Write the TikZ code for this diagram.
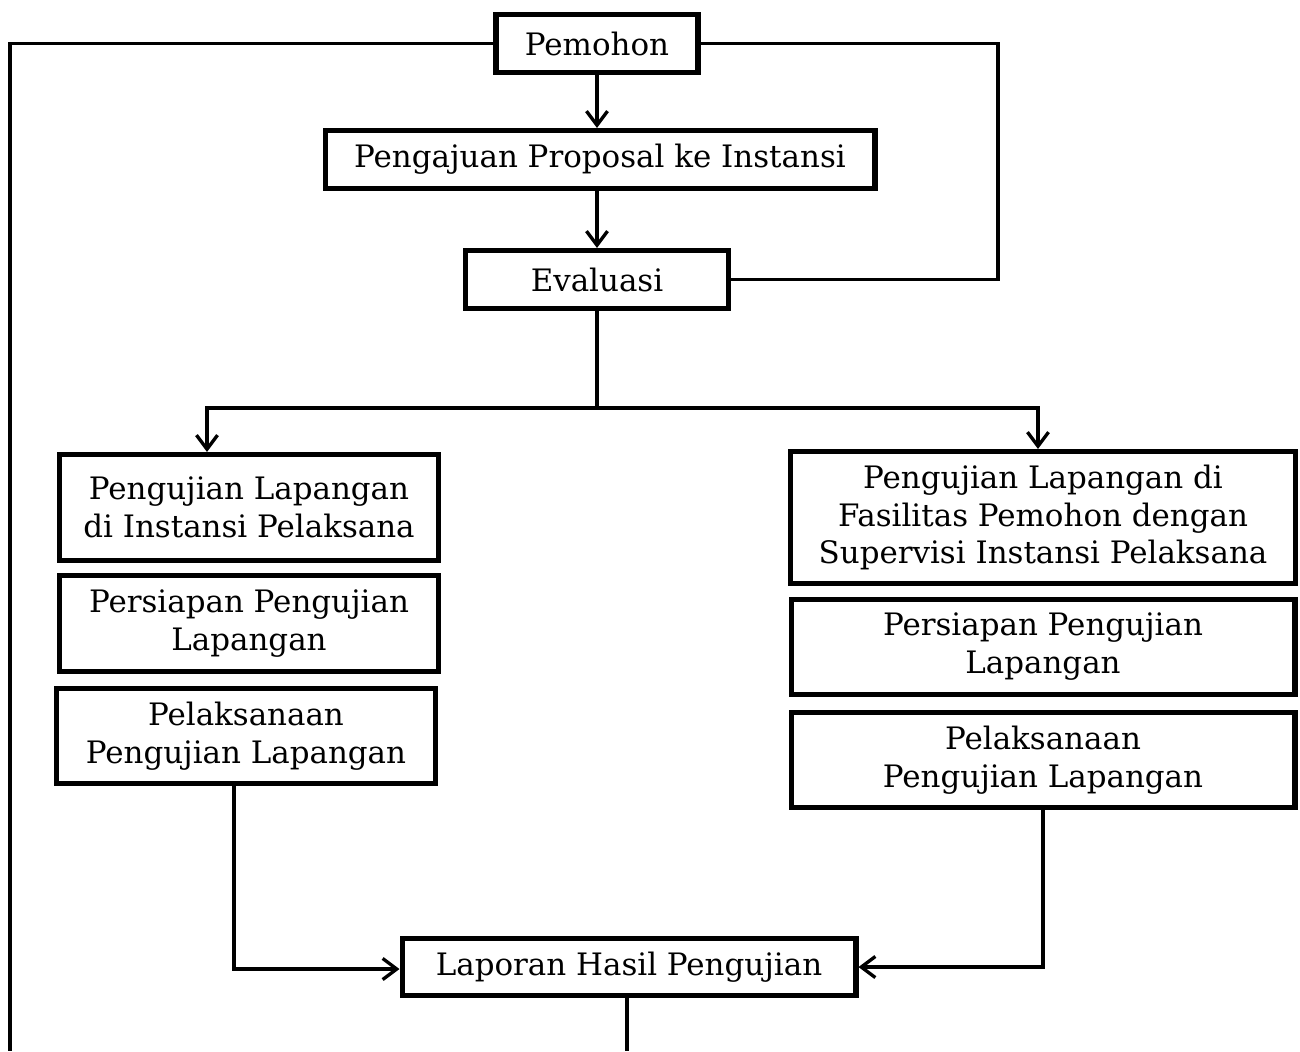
\documentclass[tikz,border=0pt]{standalone}
\usepackage{fontspec}
\setmainfont{DejaVu Serif}
\usetikzlibrary{arrows.meta}

\tikzset{
    kotak/.style={draw, line width=2.9pt, align=center, inner sep=0pt,
        font=\fontsize{17.6}{21.6}\selectfont},
    garis/.style={line width=1.9pt},
    panah/.style={garis, -{Straight Barb[length=8pt,width=12pt,line width=1.9pt]}}
}

\begin{document}
\begin{tikzpicture}[x=0.02cm, y=-0.02cm]
    % batas gambar
    \useasboundingbox (0,0) rectangle (1300,1051);

    % kotak bagian atas
    \node[kotak, minimum width=4.04cm, minimum height=1.16cm] (pemohon) at (597,43.5) {Pemohon};
    \node[kotak, minimum width=11cm, minimum height=1.16cm] (pengajuan) at (600,159.5) {Pengajuan Proposal ke Instansi};
    \node[kotak, minimum width=5.26cm, minimum height=1.16cm] (evaluasi) at (597,279.5) {Evaluasi};

    % kotak sebelah kiri
    \node[kotak, minimum width=7.58cm, minimum height=2.12cm] (kiri1) at (249,507.5) {Pengujian Lapangan\\di Instansi Pelaksana};
    \node[kotak, minimum width=7.58cm, minimum height=1.92cm] (kiri2) at (249,623.5) {Persiapan Pengujian\\Lapangan};
    \node[kotak, minimum width=7.58cm, minimum height=1.90cm] (kiri3) at (246,736) {Pelaksanaan\\Pengujian Lapangan};

    % kotak sebelah kanan
    \node[kotak, minimum width=10.1cm, minimum height=2.64cm] (kanan1) at (1043,517.5) {Pengujian Lapangan di\\Fasilitas Pemohon dengan\\Supervisi Instansi Pelaksana};
    \node[kotak, minimum width=10.08cm, minimum height=1.90cm] (kanan2) at (1043,647) {Persiapan Pengujian\\Lapangan};
    \node[kotak, minimum width=10.08cm, minimum height=1.90cm] (kanan3) at (1043,760) {Pelaksanaan\\Pengujian Lapangan};

    % kotak laporan
    \node[kotak, minimum width=9.08cm, minimum height=1.14cm] (laporan) at (629,967) {Laporan Hasil Pengujian};

    % titik bantu
    \coordinate (ujungKiri) at (10,1051);
    \coordinate (belokKanan) at (998,43.5);
    \coordinate (cabang) at (597,408);
    \coordinate (cabangKiri) at (207,408);
    \coordinate (cabangKanan) at (1038,408);
    \coordinate (turunKiri) at (234,969);
    \coordinate (ujungBawah) at (627,1051);

    % garis dari pemohon
    \draw[garis] (pemohon.west) -| (ujungKiri);
    \draw[garis] (pemohon.east) -- (belokKanan) |- (evaluasi.east);
    \draw[panah] (pemohon.south) -- (pemohon.south |- pengajuan.north);
    \draw[panah] (pengajuan.south -| evaluasi.north) -- (evaluasi.north);

    % percabangan dari evaluasi
    \draw[garis] (evaluasi.south) -- (cabang);
    \draw[panah] (cabang) -- (cabangKiri) -- (cabangKiri |- kiri1.north);
    \draw[panah] (cabang) -- (cabangKanan) -- (cabangKanan |- kanan1.north);

    % menuju laporan
    \draw[panah] (kiri3.south -| turunKiri) -- (turunKiri) -- (turunKiri -| laporan.west);
    \draw[panah] (kanan3.south) |- (laporan.east);
    \draw[garis] (laporan.south -| ujungBawah) -- (ujungBawah);
\end{tikzpicture}
\end{document}
